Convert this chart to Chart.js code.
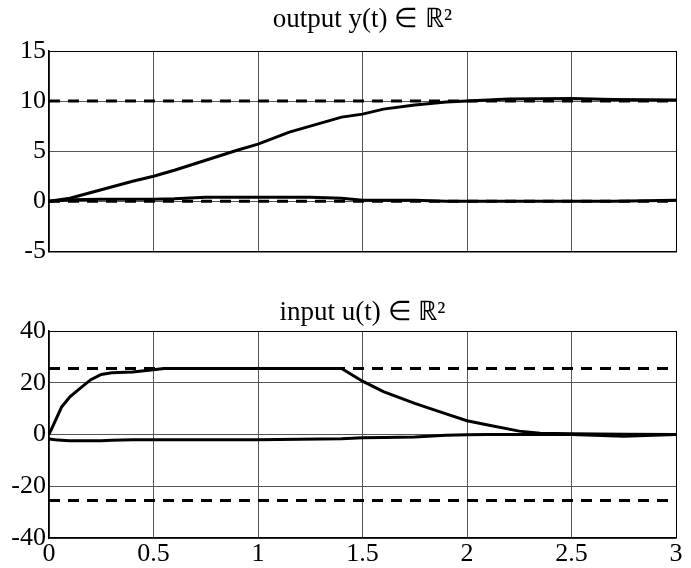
<!DOCTYPE html>
<html>
<head>
<meta charset="utf-8">
<script src="https://cdn.jsdelivr.net/npm/chart.js@4.4.0/dist/chart.umd.min.js"></script>
<style>
  body { margin: 0; background: #fff; }
  .box { position: relative; width: 691px; }
  #outBox { height: 270px; }
  #inBox { height: 298px; }
</style>
</head>
<body>
<div class="box" id="outBox"><canvas id="outChart"></canvas></div>
<div class="box" id="inBox"><canvas id="inChart"></canvas></div>
<script>
// output y(t)
const tOut = [0, 0.1, 0.25, 0.4, 0.5, 0.6, 0.75, 0.9, 1.0, 1.15, 1.25, 1.4, 1.5, 1.6, 1.75, 1.9, 2.0, 2.2, 2.5, 2.7, 3.0];
const y1 = [0, 0.3, 1.15, 2.0, 2.5, 3.1, 4.1, 5.1, 5.7, 6.9, 7.5, 8.4, 8.7, 9.2, 9.6, 9.9, 10.0, 10.2, 10.25, 10.15, 10.1];
const y2 = [0, 0.15, 0.2, 0.2, 0.2, 0.25, 0.4, 0.4, 0.4, 0.4, 0.4, 0.3, 0.1, 0.1, 0.1, 0, 0, 0, 0, 0, 0.1];
const yRef = [10, 0];

// input u(t)
const tIn = [0, 0.03, 0.06, 0.1, 0.15, 0.2, 0.25, 0.3, 0.4, 0.5, 0.55, 1.0, 1.4, 1.5, 1.6, 1.75, 1.9, 2.0, 2.1, 2.25, 2.35, 2.5, 2.75, 3.0];
const u1 = [0, 5.3, 10.6, 14.6, 17.9, 21.2, 23.2, 23.9, 24.2, 25, 25.5, 25.5, 25.5, 20.6, 16.6, 12, 8, 5.3, 3.7, 1.3, 0.5, 0.3, 0.1, 0];
const u2 = [-1.7, -2, -2.2, -2.4, -2.4, -2.4, -2.4, -2.2, -2, -2, -2, -2, -1.6, -1.3, -1.2, -1, -0.3, -0.1, 0, 0, 0, 0, -0.7, 0];
const uLim = [25.5, -25.5];

const xTicks = [0, 0.5, 1, 1.5, 2, 2.5, 3];
const FONT = "'Liberation Serif', 'Times New Roman', serif";

function pts(t, v) {
    return t.map(function (x, i) { return { x: x, y: v[i] }; });
}

function solid(t, v) {
    return { data: pts(t, v), borderColor: "#000", borderWidth: 3, pointRadius: 0, tension: 0, fill: false };
}

function dashed(level) {
    return { data: [{ x: 0, y: level }, { x: 3, y: level }], borderColor: "#000", borderWidth: 3,
             borderDash: [11, 8], pointRadius: 0, fill: false };
}

// title centred on the plot area
const plotTitle = {
    id: "plotTitle",
    afterDraw: function (chart, args, opts) {
        const ctx = chart.ctx;
        const a = chart.chartArea;
        ctx.save();
        ctx.fillStyle = "#000";
        ctx.font = "27px " + FONT;
        ctx.textAlign = "center";
        ctx.textBaseline = "middle";
        ctx.fillText(opts.text, (a.left + a.right) / 2, opts.y);
        ctx.restore();
    }
};

function makeChart(id, datasets, yMin, yMax, yStep, showX, topPad, titleText, titleY) {
    const ctx = document.getElementById(id).getContext("2d");
    return new Chart(ctx, {
        type: "line",
        data: { datasets: datasets },
        plugins: [plotTitle],
        options: {
            responsive: true,
            maintainAspectRatio: false,
            animation: false,
            layout: { padding: { top: topPad, right: 15, left: 0, bottom: showX ? 0 : 16 } },
            plugins: {
                legend: { display: false },
                tooltip: { enabled: false },
                plotTitle: { text: titleText, y: titleY }
            },
            scales: {
                x: {
                    type: "linear",
                    min: 0,
                    max: 3,
                    afterBuildTicks: function (s) { s.ticks = xTicks.map(function (v) { return { value: v }; }); },
                    afterFit: function (s) { s.height = showX ? 30 : 0; },
                    grid: {
                        drawTicks: false,
                        lineWidth: 1,
                        color: function (c) { return c.tick && c.tick.value === 3 ? "#000" : "#555"; }
                    },
                    border: { color: "#000", width: 1.5 },
                    ticks: {
                        display: showX, padding: 1, color: "#000", font: { family: FONT, size: 26 },
                        callback: function (v) { return String(v); }
                    }
                },
                y: {
                    min: yMin,
                    max: yMax,
                    afterFit: function (s) { s.width = 49; },
                    grid: {
                        drawTicks: false,
                        lineWidth: 1,
                        color: function (c) { return c.tick && c.tick.value === yMax ? "#000" : "#555"; }
                    },
                    border: { color: "#000", width: 1.5 },
                    ticks: {
                        stepSize: yStep, padding: 3, color: "#000", font: { family: FONT, size: 26 },
                        callback: function (v) { return String(v); }
                    }
                }
            }
        }
    });
}

makeChart("outChart",
    [dashed(yRef[0]), dashed(yRef[1]), solid(tOut, y1), solid(tOut, y2)],
    -5, 15, 5, false, 51, "output y(t) \u2208 \u211D\u00B2", 20);

makeChart("inChart",
    [dashed(uLim[0]), dashed(uLim[1]), solid(tIn, u1), solid(tIn, u2)],
    -40, 40, 20, true, 61, "input u(t) \u2208 \u211D\u00B2", 43);
</script>
</body>
</html>
